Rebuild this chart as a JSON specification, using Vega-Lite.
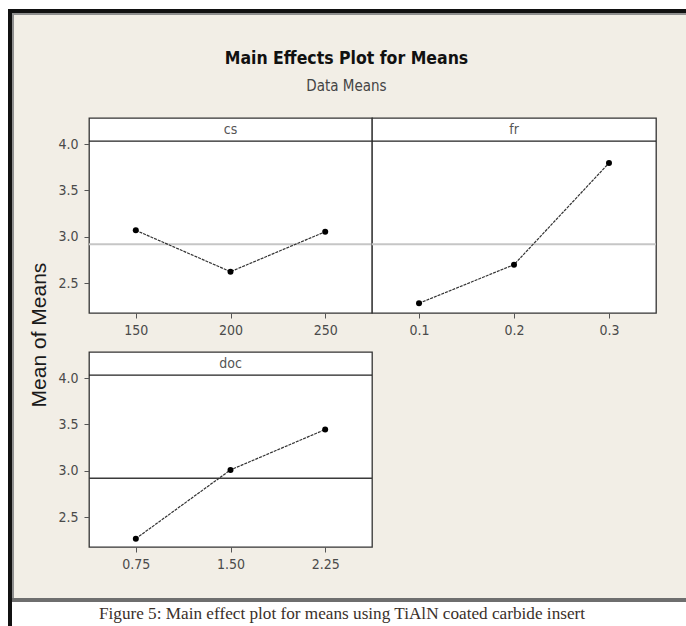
{
  "$schema": "https://vega.github.io/schema/vega-lite/v6.json",
  "padding": 0,
  "background": "#f2eee6",
  "spacing": 0,
  "config": {
    "view": {"stroke": "#333333", "strokeWidth": 1.3, "fill": "white"},
    "axis": {
      "domain": false, "grid": false, "ticks": true, "tickColor": "#555555", "tickSize": 5, "tickWidth": 1,
      "labelFont": "DejaVu Sans Condensed, DejaVu Sans, sans-serif",
      "labelFontSize": 14, "labelColor": "#4a4a4a", "labelPadding": 5
    },
    "axisY": {"labelPadding": 6}
  },
  "datasets": {
    "effects": [
      {"factor": "cs", "level": 150, "mean": 3.07},
      {"factor": "cs", "level": 200, "mean": 2.625},
      {"factor": "cs", "level": 250, "mean": 3.055},
      {"factor": "fr", "level": 0.1, "mean": 2.285},
      {"factor": "fr", "level": 0.2, "mean": 2.7},
      {"factor": "fr", "level": 0.3, "mean": 3.795},
      {"factor": "doc", "level": 0.75, "mean": 2.27},
      {"factor": "doc", "level": 1.5, "mean": 3.01},
      {"factor": "doc", "level": 2.25, "mean": 3.445}
    ],
    "grand": [
      {"factor": "cs", "mean": 2.92},
      {"factor": "fr", "mean": 2.92},
      {"factor": "doc", "mean": 2.92}
    ]
  },
  "vconcat": [
    {"width": 686, "height": 9, "view": {"fill": "white", "stroke": null}, "data": {"values": []}, "mark": {"type": "text", "text": ""}, "encoding": {}},
    {
      "hconcat": [
        {"width": 8, "height": 617, "view": {"fill": "white", "stroke": null}, "data": {"values": []}, "mark": {"type": "text", "text": ""}, "encoding": {}},
        {"width": 4, "height": 617, "view": {"fill": "#111111", "stroke": null}, "data": {"values": []}, "mark": {"type": "text", "text": ""}, "encoding": {}},
        {
          "vconcat": [
            {"width": 674, "height": 4, "view": {"fill": "#111111", "stroke": null}, "data": {"values": []}, "mark": {"type": "text", "text": ""}, "encoding": {}},
            {"width": 674, "height": 2, "view": {"fill": "#8f8f8f", "stroke": null}, "data": {"values": []}, "mark": {"type": "text", "text": ""}, "encoding": {}},
            {
              "hconcat": [
                {"width": 2, "height": 583, "view": {"fill": "#8f8f8f", "stroke": null}, "data": {"values": []}, "mark": {"type": "text", "text": ""}, "encoding": {}},
                {"width": 14, "height": 1, "view": {"fill": null, "stroke": null}, "data": {"values": []}, "mark": {"type": "text", "text": ""}, "encoding": {}},
                {
                  "vconcat": [
                    {"width": 1, "height": 101, "view": {"fill": null, "stroke": null}, "data": {"values": []}, "mark": {"type": "text", "text": ""}, "encoding": {}},
                    {"width": 1, "height": 438, "view": {"fill": null, "stroke": null}, "data": {"values": []}, "mark": {"type": "text", "text": ""}, "encoding": {},
                      "title": {"text": "Mean of Means", "orient": "left", "anchor": "middle", "offset": 6, "font": "Liberation Sans, Arial, sans-serif", "fontSize": 21, "fontWeight": "normal", "color": "#1a1a1a"}}
                  ],
                  "spacing": 0
                },
                {
                  "vconcat": [
                    {"width": 1, "height": 34, "view": {"fill": null, "stroke": null}, "data": {"values": []}, "mark": {"type": "text", "text": ""}, "encoding": {}},
                    {
                      "hconcat": [
                        {
                          "width": 283, "height": 195,
                          "encoding": {"y": {"field": "mean", "type": "quantitative", "scale": {"domain": [2.18, 4.28], "nice": false, "zero": false},
                            "axis": {"values": [2.5, 3, 3.5, 4], "format": ".1f", "title": null}}},
                          "layer": [
                            {"data": {"name": "grand"}, "transform": [{"filter": "datum.factor === 'cs'"}], "mark": {"type": "rule", "color": "#c6c6c6", "strokeWidth": 2}, "encoding": {}},
                            {"data": {"name": "grand"}, "transform": [{"filter": "datum.factor === 'cs'"}], "mark": {"type": "rule", "color": "#222222", "strokeWidth": 1.3}, "encoding": {"y": {"datum": 4.03}}},
                            {"data": {"name": "grand"}, "transform": [{"filter": "datum.factor === 'cs'"}], "mark": {"type": "text", "font": "DejaVu Sans Condensed, DejaVu Sans, sans-serif", "fontSize": 14, "color": "#555555", "baseline": "middle", "align": "center"}, "encoding": {"y": {"datum": 4.155}, "text": {"field": "factor"}}},
                            {"data": {"name": "effects"}, "transform": [{"filter": "datum.factor === 'cs'"}], "mark": {"type": "line", "color": "#333333", "strokeWidth": 1.2, "strokeDash": [3, 1]},
                              "encoding": {"x": {"field": "level", "type": "quantitative", "scale": {"domain": [125.3, 274.7], "nice": false, "zero": false}, "axis": {"values": [150, 200, 250], "format": "d", "title": null}}}},
                            {"data": {"name": "effects"}, "transform": [{"filter": "datum.factor === 'cs'"}], "mark": {"type": "point", "filled": true, "color": "#000000", "size": 36, "opacity": 1},
                              "encoding": {"x": {"field": "level", "type": "quantitative"}}}
                          ]
                        },
                        {
                          "width": 284, "height": 195,
                          "encoding": {"y": {"field": "mean", "type": "quantitative", "scale": {"domain": [2.18, 4.28], "nice": false, "zero": false}, "axis": null}},
                          "layer": [
                            {"data": {"name": "grand"}, "transform": [{"filter": "datum.factor === 'fr'"}], "mark": {"type": "rule", "color": "#c6c6c6", "strokeWidth": 2}, "encoding": {}},
                            {"data": {"name": "grand"}, "transform": [{"filter": "datum.factor === 'fr'"}], "mark": {"type": "rule", "color": "#222222", "strokeWidth": 1.3}, "encoding": {"y": {"datum": 4.03}}},
                            {"data": {"name": "grand"}, "transform": [{"filter": "datum.factor === 'fr'"}], "mark": {"type": "text", "font": "DejaVu Sans Condensed, DejaVu Sans, sans-serif", "fontSize": 14, "color": "#555555", "baseline": "middle", "align": "center"}, "encoding": {"y": {"datum": 4.155}, "text": {"field": "factor"}}},
                            {"data": {"name": "effects"}, "transform": [{"filter": "datum.factor === 'fr'"}], "mark": {"type": "line", "color": "#333333", "strokeWidth": 1.2, "strokeDash": [3, 1]},
                              "encoding": {"x": {"field": "level", "type": "quantitative", "scale": {"domain": [0.0505, 0.3495], "nice": false, "zero": false}, "axis": {"values": [0.1, 0.2, 0.3], "format": ".1f", "title": null}}}},
                            {"data": {"name": "effects"}, "transform": [{"filter": "datum.factor === 'fr'"}], "mark": {"type": "point", "filled": true, "color": "#000000", "size": 36, "opacity": 1},
                              "encoding": {"x": {"field": "level", "type": "quantitative"}}}
                          ]
                        }
                      ],
                      "spacing": 0,
                      "bounds": "flush",
                      "title": {
                        "text": "Main Effects Plot for Means", "subtitle": "Data Means", "anchor": "middle", "offset": 23, "dx": -11,
                        "font": "DejaVu Sans Condensed, DejaVu Sans, sans-serif", "fontSize": 17.5, "fontWeight": "bold", "color": "#111111",
                        "subtitleFont": "DejaVu Sans Condensed, DejaVu Sans, sans-serif", "subtitleFontSize": 15, "subtitleColor": "#444444", "subtitlePadding": 12
                      }
                    },
                    {"width": 1, "height": 13, "view": {"fill": null, "stroke": null}, "data": {"values": []}, "mark": {"type": "text", "text": ""}, "encoding": {}},
                    {
                      "width": 283, "height": 195,
                      "encoding": {"y": {"field": "mean", "type": "quantitative", "scale": {"domain": [2.18, 4.28], "nice": false, "zero": false},
                        "axis": {"values": [2.5, 3, 3.5, 4], "format": ".1f", "title": null}}},
                      "layer": [
                        {"data": {"name": "grand"}, "transform": [{"filter": "datum.factor === 'doc'"}], "mark": {"type": "rule", "color": "#3a3a3a", "strokeWidth": 1.4}, "encoding": {}},
                        {"data": {"name": "grand"}, "transform": [{"filter": "datum.factor === 'doc'"}], "mark": {"type": "rule", "color": "#222222", "strokeWidth": 1.3}, "encoding": {"y": {"datum": 4.03}}},
                        {"data": {"name": "grand"}, "transform": [{"filter": "datum.factor === 'doc'"}], "mark": {"type": "text", "font": "DejaVu Sans Condensed, DejaVu Sans, sans-serif", "fontSize": 14, "color": "#555555", "baseline": "middle", "align": "center"}, "encoding": {"y": {"datum": 4.155}, "text": {"field": "factor"}}},
                        {"data": {"name": "effects"}, "transform": [{"filter": "datum.factor === 'doc'"}], "mark": {"type": "line", "color": "#333333", "strokeWidth": 1.2, "strokeDash": [3, 1]},
                          "encoding": {"x": {"field": "level", "type": "quantitative", "scale": {"domain": [0.379, 2.621], "nice": false, "zero": false}, "axis": {"values": [0.75, 1.5, 2.25], "format": ".2f", "title": null}}}},
                        {"data": {"name": "effects"}, "transform": [{"filter": "datum.factor === 'doc'"}], "mark": {"type": "point", "filled": true, "color": "#000000", "size": 36, "opacity": 1},
                          "encoding": {"x": {"field": "level", "type": "quantitative"}}}
                      ]
                    }
                  ],
                  "spacing": 0
                }
              ],
              "spacing": 0
            },
            {"width": 674, "height": 4, "view": {"fill": "#6e6e6e", "stroke": null}, "data": {"values": []}, "mark": {"type": "text", "text": ""}, "encoding": {}},
            {"width": 674, "height": 24, "view": {"fill": "white", "stroke": null}, "data": {"values": []}, "mark": {"type": "text", "text": ""}, "encoding": {},
              "title": {"text": "Figure 5: Main effect plot for means using TiAlN coated carbide insert", "orient": "bottom", "offset": -21, "anchor": "middle", "dx": -7,
                "font": "Liberation Serif, Times New Roman, serif", "fontSize": 17.2, "fontWeight": "normal", "color": "#3a302a"}}
          ],
          "spacing": 0
        }
      ],
      "spacing": 0
    }
  ]
}
